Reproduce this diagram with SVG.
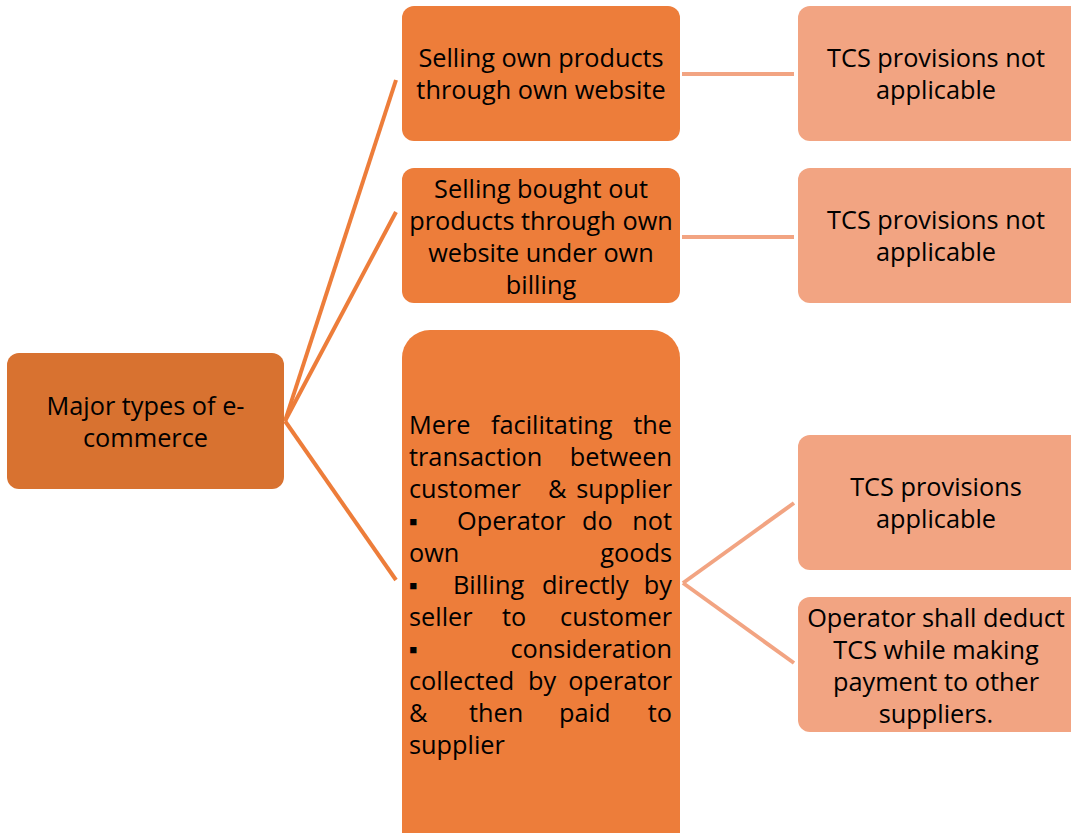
<svg xmlns="http://www.w3.org/2000/svg" width="1071" height="833" viewBox="0 0 1071 833">
<style>
text{font-family:"Open Sans","Noto Sans","Liberation Sans",sans-serif;font-size:25.3px;fill:#000}
.c{text-anchor:middle}
.e{text-anchor:end}
.dark{fill:#D87230}
.mid{fill:#ED7D3A}
.light{fill:#F2A482}
.lc{stroke:#ED7D3A;stroke-width:4;fill:none}
.rc{stroke:#F2A482;stroke-width:4;fill:none}
</style>
<rect width="1071" height="833" fill="#fff"/>
<g id="connectors">
<path class="lc" d="M285,421 L396,80"/>
<path class="lc" d="M285,421 L396,212"/>
<path class="lc" d="M285,421 L396,580"/>
<path class="rc" d="M682,74 L794,74"/>
<path class="rc" d="M682,237 L794,237"/>
<path class="rc" d="M683,583 L794,503"/>
<path class="rc" d="M683,583 L794,663"/>
</g>
<g id="root">
<rect class="dark" x="7" y="353" width="277" height="136" rx="12"/>
<text class="c" x="145.5" y="415">Major types of e-</text>
<text class="c" x="145.5" y="447">commerce</text>
</g>
<g id="n1">
<rect class="mid" x="402" y="6" width="278" height="135" rx="12"/>
<text class="c" x="541" y="67">Selling own products</text>
<text class="c" x="541" y="99">through own website</text>
</g>
<g id="n2">
<rect class="mid" x="402" y="168" width="278" height="135" rx="12"/>
<text class="c" x="541" y="198">Selling bought out</text>
<text class="c" x="541" y="230">products through own</text>
<text class="c" x="541" y="262">website under own</text>
<text class="c" x="541" y="294">billing</text>
</g>
<g id="n3">
<rect class="mid" x="402" y="330" width="278" height="530" rx="28"/>
<text x="409" y="434">Mere</text><text x="491" y="434">facilitating</text><text class="e" x="672" y="434">the</text>
<text x="409" y="466">transaction</text><text class="e" x="672" y="466">between</text>
<text x="409" y="498">customer</text><text x="548" y="498">&amp;</text><text class="e" x="672" y="498">supplier</text>
<text x="409" y="530">▪</text><text x="457" y="530">Operator</text><text x="582" y="530">do</text><text class="e" x="672" y="530">not</text>
<text x="409" y="562">own</text><text class="e" x="672" y="562">goods</text>
<text x="409" y="594">▪</text><text x="453" y="594">Billing</text><text x="542" y="594">directly</text><text class="e" x="672" y="594">by</text>
<text x="409" y="626">seller</text><text x="502" y="626">to</text><text class="e" x="672" y="626">customer</text>
<text x="409" y="658">▪</text><text class="e" x="672" y="658">consideration</text>
<text x="409" y="690">collected</text><text x="528" y="690">by</text><text class="e" x="672" y="690">operator</text>
<text x="409" y="722">&amp;</text><text x="469" y="722">then</text><text x="559" y="722">paid</text><text class="e" x="672" y="722">to</text>
<text x="409" y="754">supplier</text>
</g>
<g id="r1">
<rect class="light" x="798" y="6" width="285" height="135" rx="12"/>
<text class="c" x="936" y="67">TCS provisions not</text>
<text class="c" x="936" y="99">applicable</text>
</g>
<g id="r2">
<rect class="light" x="798" y="168" width="285" height="135" rx="12"/>
<text class="c" x="936" y="229">TCS provisions not</text>
<text class="c" x="936" y="261">applicable</text>
</g>
<g id="r3">
<rect class="light" x="798" y="435" width="285" height="135" rx="12"/>
<text class="c" x="936" y="496">TCS provisions</text>
<text class="c" x="936" y="528">applicable</text>
</g>
<g id="r4">
<rect class="light" x="798" y="597" width="285" height="135" rx="12"/>
<text class="c" x="936" y="627">Operator shall deduct</text>
<text class="c" x="936" y="659">TCS while making</text>
<text class="c" x="936" y="691">payment to other</text>
<text class="c" x="936" y="723">suppliers.</text>
</g>
</svg>
